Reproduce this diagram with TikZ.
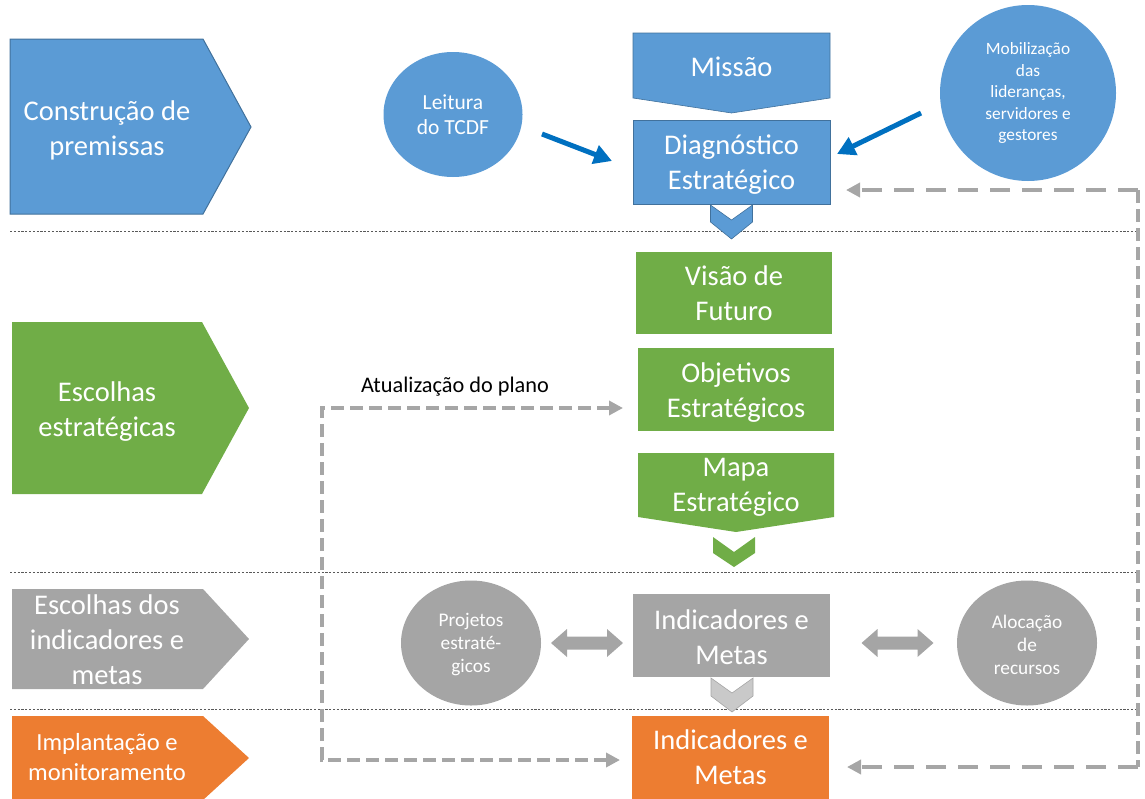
\documentclass[tikz,border=0pt]{standalone}
\usepackage{fontspec}
\setmainfont{Carlito}
\usetikzlibrary{arrows.meta,shapes.geometric}
\definecolor{cblue}{HTML}{5B9BD5}
\definecolor{cblueb}{HTML}{41719C}
\definecolor{cgreen}{HTML}{70AD47}
\definecolor{cgray}{HTML}{A5A5A5}
\definecolor{clgray}{HTML}{C9C9C9}
\definecolor{corange}{HTML}{ED7D31}
\definecolor{carrow}{HTML}{0070C0}
\definecolor{cdash}{HTML}{A6A6A6}
\definecolor{csep}{HTML}{595959}
\tikzset{
  bigtxt/.style={text=white, align=center, inner sep=0, font=\fontsize{28.5}{35}\selectfont},
  midtxt/.style={text=white, align=center, inner sep=0, font=\fontsize{24.6}{30}\selectfont},
  circtxt/.style={text=white, align=center, inner sep=0},
  boxnode/.style={rectangle, inner sep=0, minimum width=197, minimum height=84},
  circnode/.style={ellipse, inner sep=0},
  sepline/.style={csep, line width=0.8, dash pattern=on 2.2 off 1.6},
  bluearrow/.style={carrow, line width=5, -{Triangle[length=18,width=19]}},
  dashline/.style={cdash, line width=4.5, dash pattern=on 13 off 6},
  longdash/.style={cdash, line width=4.5, dash pattern=on 20 off 12},
  dtip/.style={-{Triangle[length=14,width=14]}},
}
\newcommand{\dblarr}[2]{% center x, center y ; length 72
  \fill[cgray] (#1-36,#2) -- (#1-20,#2-14) -- (#1-20,#2-6.5) -- (#1+20,#2-6.5) -- (#1+20,#2-14) -- (#1+36,#2) -- (#1+20,#2+14) -- (#1+20,#2+6.5) -- (#1-20,#2+6.5) -- (#1-20,#2+14) -- cycle;}
\begin{document}
\begin{tikzpicture}[x=1pt,y=-1pt]
\useasboundingbox (0,0) rectangle (1145,798);

% separators
\draw[sepline] (10,231) -- (1140,231);
\draw[sepline] (10,572) -- (1140,572);
\draw[sepline] (10,709) -- (1140,709);

% left phase pentagons
\filldraw[fill=cblue, draw=cblueb, line width=1] (10,39) -- (203,39) -- (251,127) -- (203,214) -- (10,214) -- cycle;
\node[bigtxt] (p1) at (107,130) {Construção de\\premissas};
\fill[cgreen] (12,322) -- (202,322) -- (249,408) -- (202,494) -- (12,494) -- cycle;
\node[bigtxt] (p2) at (107,411.5) {Escolhas\\estratégicas};
\fill[cgray] (12,589) -- (203,589) -- (249,639) -- (203,689) -- (12,689) -- cycle;
\node[bigtxt] (p3) at (107,640) {Escolhas dos\\indicadores e\\metas};
\fill[corange] (12,716) -- (203,716) -- (249,758) -- (203,800) -- (12,800) -- cycle;
\node[midtxt] (p4) at (107,757.5) {Implantação e\\monitoramento};

% central column
\filldraw[fill=cblue, draw=cblueb, line width=0.6] (633,33) -- (830,33) -- (830,98) -- (731.5,113) -- (633,98) -- cycle;
\node[bigtxt] (missao) at (731.5,67) {Missão};
\node[boxnode, fill=cblue, draw=cblueb, line width=0.6] (diag) at (731.5,162) {};
\node[bigtxt] at (731.5,165) {Diagnóstico\\Estratégico};
\filldraw[fill=cblue, draw=cblueb, line width=0.6] (710.5,205) -- (731.5,220) -- (752.5,205) -- (752.5,222) -- (731.5,239) -- (710.5,222) -- cycle;

\node[boxnode, fill=cgreen, minimum width=196, minimum height=82] (visao) at (734,293) {};
\node[bigtxt] at (visao) {Visão de\\Futuro};
\node[boxnode, fill=cgreen, minimum width=196, minimum height=83] (obj) at (736,389.5) {};
\node[bigtxt] at (736,392.5) {Objetivos\\Estratégicos};
\fill[cgreen] (638,453) -- (834,453) -- (834,517) -- (736,532) -- (638,517) -- cycle;
\node[bigtxt] (mapa) at (736,487) {Mapa\\Estratégico};
\fill[cgreen] (713,537) -- (734,552) -- (755,537) -- (755,553) -- (734,567) -- (713,553) -- cycle;

\node[boxnode, fill=cgray, minimum height=83] (ind) at (731.5,635.5) {};
\node[bigtxt] at (731.5,637) {Indicadores e\\Metas};
\filldraw[fill=clgray, draw=cgray, line width=0.6] (711,678) -- (732,693) -- (753,678) -- (753,696) -- (732,712) -- (711,696) -- cycle;
\node[boxnode, fill=corange] (ind2) at (730.5,758) {};
\node[bigtxt] at (730.5,757.5) {Indicadores e\\Metas};

% circles
\node[circnode, fill=cblue, minimum width=139, minimum height=125] (leit) at (453,114.5) {};
\node[circtxt, font=\fontsize{21.5}{25.5}\selectfont] at (leit) {Leitura\\do TCDF};
\node[circnode, fill=cblue, minimum width=176, minimum height=176] (mob) at (1028,93) {};
\node[circtxt, font=\fontsize{17.3}{21.5}\selectfont] at (mob) {Mobilização\\das\\lideranças,\\servidores e\\gestores};
\node[circnode, fill=cgray, minimum width=140, minimum height=125] (proj) at (471,643) {};
\node[circtxt, font=\fontsize{19.3}{23}\selectfont] at (471,644.5) {Projetos\\estraté-\\gicos};
\node[circnode, fill=cgray, minimum width=140, minimum height=125] (aloc) at (1027,643) {};
\node[circtxt, font=\fontsize{19.3}{23}\selectfont] at (1027,644.5) {Alocação\\de\\recursos};

% double arrows
\dblarr{587}{643}
\dblarr{897.5}{643}

% blue arrows
\coordinate (a1s) at (542,134);
\coordinate (a1e) at (612,161);
\coordinate (a2s) at (921,113);
\coordinate (a2e) at (837,154);
\draw[bluearrow] (a1s) -- (a1e);
\draw[bluearrow] (a2s) -- (a2e);

% dashed feedback loops
\coordinate (r1) at (1138,190);
\coordinate (r2) at (1138,767);
\coordinate (r1e) at (846,190);
\coordinate (r2e) at (847,767);
\draw[longdash, dtip] (r1) -- (r1e);
\draw[dashline] (r1) -- (r2);
\draw[longdash, dtip] (r2) -- (r2e);

\coordinate (l1) at (322,408);
\coordinate (l2) at (322,760);
\coordinate (l1e) at (623,408);
\coordinate (l2e) at (620,760);
\draw[dashline, {Triangle[length=14,width=14]}-{Triangle[length=14,width=14]}] (l1e) -- (l1) -- (l2) -- (l2e);
\node[font=\fontsize{22.3}{26}\selectfont, text=black, inner sep=0] (atual) at (455,387) {Atualização do plano};
\end{tikzpicture}
\end{document}
